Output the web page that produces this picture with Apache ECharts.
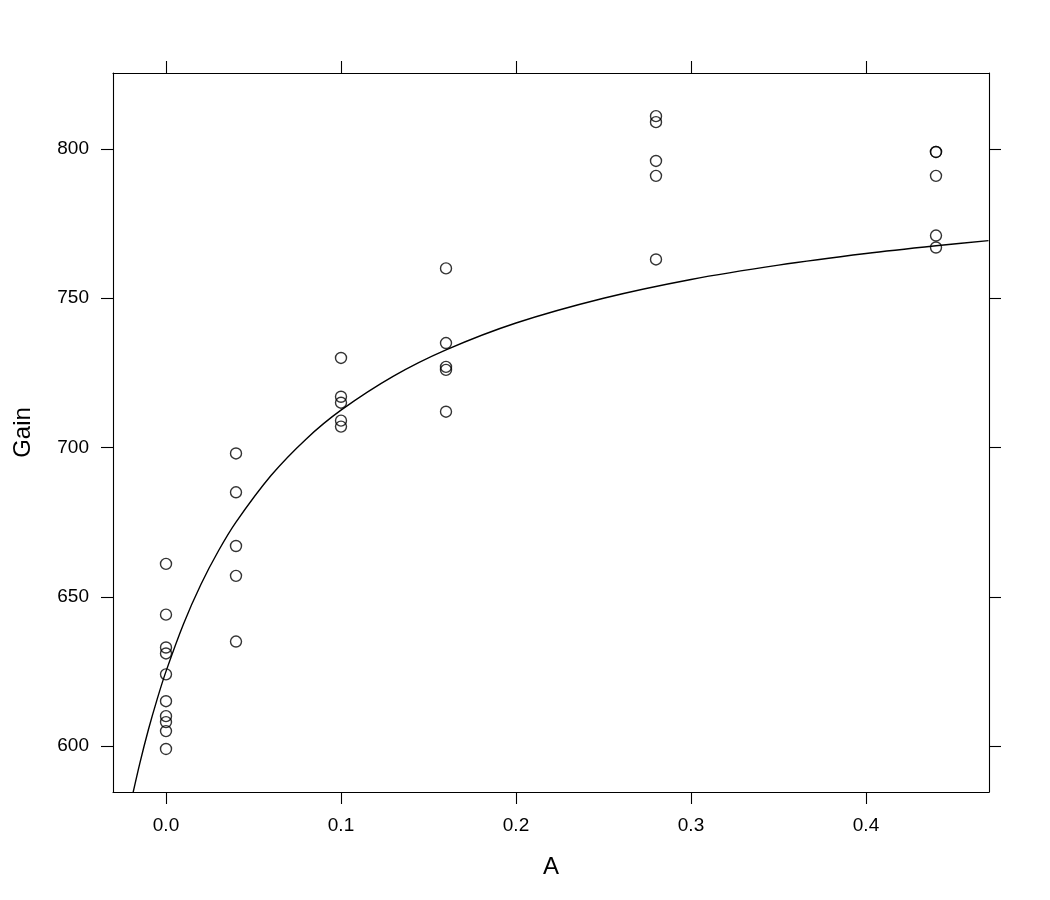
<!DOCTYPE html>
<html>
<head>
<meta charset="utf-8">
<script src="https://cdn.jsdelivr.net/npm/echarts@6/dist/echarts.min.js"></script>
<style>html,body{margin:0;padding:0;background:#fff;}#c{width:1050px;height:900px;}</style>
</head>
<body>
<div id="c"></div>
<script>
// Methionine amount (A) for each observation
const obsA = [0,0,0,0,0,0,0,0,0,0,
              0.04,0.04,0.04,0.04,0.04,
              0.1,0.1,0.1,0.1,0.1,
              0.16,0.16,0.16,0.16,0.16,
              0.28,0.28,0.28,0.28,0.28,
              0.44,0.44,0.44,0.44,0.44];
// Weight gain for each observation
const obsGain = [644,631,661,624,633,610,615,605,608,599,
                 698,667,657,685,635,
                 730,715,717,709,707,
                 735,712,726,760,727,
                 809,796,763,791,811,
                 767,799,771,799,791];
// Fitted curve
const curveA    = [-0.02,-0.015,-0.01,-0.005,0,0.01,0.02,0.03,0.04,0.06,0.08,0.1,0.13,0.16,0.2,0.25,0.3,0.35,0.4,0.44,0.47];
const curveGain = [581.3,594.1,605.6,615.8,625,640.9,654.2,665.4,675,690.6,702.8,712.5,723.9,732.7,741.7,750,756.3,761.1,765,767.6,769.3];
// Tick labels
const xTicks = [0,0.1,0.2,0.3,0.4];
const yTicks = [600,650,700,750,800];

const FONT = 'Liberation Sans, Arial, Helvetica, sans-serif';
const chart = echarts.init(document.getElementById('c'), null, {renderer:'canvas'});

const lineStyle = {color:'#000', width:1.1};
function xAx(pos, showLabels, name) {
  return {
    type:'value', position:pos, min:-0.030286, max:0.470286,
    name: name || '', nameLocation:'middle', nameGap:63,
    nameTextStyle:{fontFamily:FONT, fontSize:24, color:'#000'},
    axisLine:{show:true, onZero:false, lineStyle},
    axisTick:{show:true, inside:false, length:12, lineStyle, customValues:xTicks},
    axisLabel:{show:showLabels, customValues:xTicks, margin:24, fontFamily:FONT, fontSize:19, color:'#000',
               formatter:v=>Number(v).toFixed(1)},
    splitLine:{show:false}
  };
}
function yAx(pos, showLabels, name) {
  return {
    type:'value', position:pos, min:584.59, max:825.46,
    name: name || '', nameLocation:'middle', nameGap:78, nameRotate:90,
    nameTextStyle:{fontFamily:FONT, fontSize:24, color:'#000'},
    axisLine:{show:true, onZero:false, lineStyle},
    axisTick:{show:true, inside:false, length:12, lineStyle, customValues:yTicks},
    axisLabel:{show:showLabels, customValues:yTicks, margin:24, fontFamily:FONT, fontSize:19, color:'#000',
               formatter:v=>String(Math.round(v))},
    splitLine:{show:false}
  };
}

chart.setOption({
  animation:false,
  backgroundColor:'#fff',
  grid:{left:113, top:73, width:876, height:719, containLabel:false},
  xAxis:[xAx('bottom', true, 'A'), xAx('top', false)],
  yAxis:[yAx('left', true, 'Gain'), yAx('right', false)],
  series:[
    {
      type:'scatter', xAxisIndex:0, yAxisIndex:0,
      data: obsA.map((a,i)=>[a, obsGain[i]]),
      symbol:'circle', symbolSize:11,
      itemStyle:{color:'rgba(0,0,0,0)', borderColor:'#000', borderWidth:1.4},
      emphasis:{disabled:true}, silent:true
    },
    {
      type:'line', xAxisIndex:0, yAxisIndex:0,
      data: curveA.map((a,i)=>[a, curveGain[i]]),
      showSymbol:false, smooth:0.3, clip:true,
      lineStyle:{color:'#000', width:1.4},
      emphasis:{disabled:true}, silent:true
    }
  ]
});
</script>
</body>
</html>
